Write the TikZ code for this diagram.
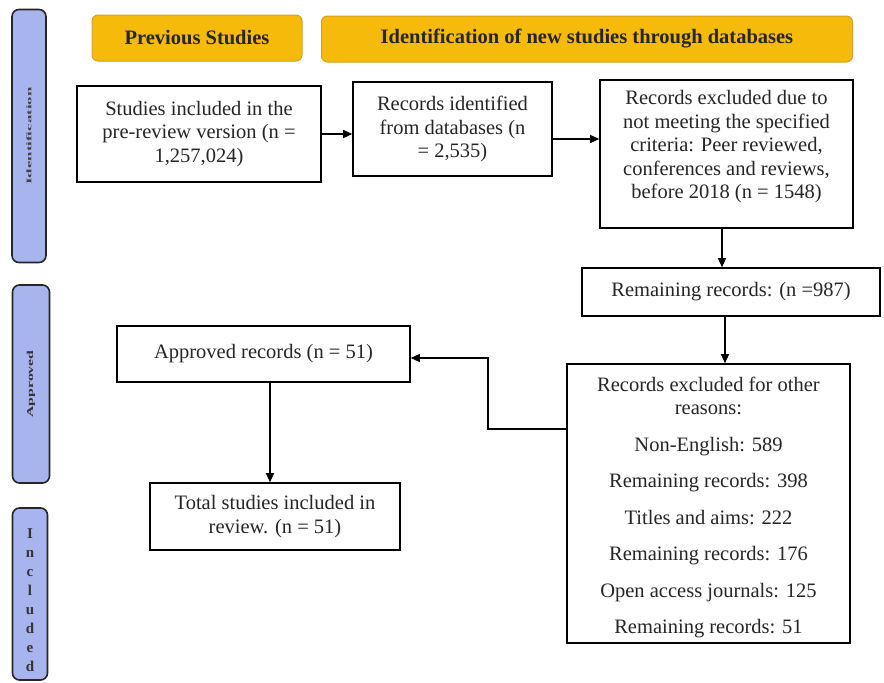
\documentclass[tikz,border=0pt]{standalone}
\usepackage{fontspec}
\setmainfont{Liberation Serif}
\usetikzlibrary{arrows.meta}
\definecolor{barblue}{RGB}{168,180,238}
\definecolor{hdrfill}{RGB}{246,186,10}
\definecolor{hdrline}{RGB}{214,160,40}
\tikzset{
  box/.style={draw=black, line width=1.6pt, fill=white, align=center, inner sep=2pt,
    font=\fontsize{20.5}{23.5}\selectfont, text=black!85},
  txt/.style={align=center, inner sep=0pt, font=\fontsize{20.5}{23.5}\selectfont, text=black!85},
  hdr/.style={draw=hdrline, line width=1pt, fill=hdrfill, rounded corners=6pt,
    font=\fontsize{20.5}{22}\selectfont\bfseries, text=black!85},
  bar/.style={draw=black!85, line width=1.6pt, fill=barblue, rounded corners=7pt},
  arr/.style={draw=black, line width=1.2pt, -{Triangle[length=9pt,width=8pt]}},
}
\begin{document}
\begin{tikzpicture}[x=1pt,y=-1pt]
\useasboundingbox (0,0) rectangle (884,683);
% side bars
\node[bar, minimum width=34pt, minimum height=253pt] (bar1) at (29,136) {};
\node[rotate=90, font=\fontsize{7}{8}\selectfont\bfseries, text=black!75] (lab1) at (bar1.center) {\scalebox{2.4}[1]{Identification}};
\node[bar, minimum width=37pt, minimum height=198pt] (bar2) at (31,384) {};
\node[rotate=90, font=\fontsize{9}{10}\selectfont\bfseries, text=black!80] (lab2) at (bar2.center) {\scalebox{1.75}[1]{Approved}};
\node[bar, minimum width=35pt, minimum height=172pt] (bar3) at (30,594) {};
\node[font=\fontsize{15}{19}\selectfont\bfseries, align=center, text=black!80] (lab3) at (30,600) {I\\n\\c\\l\\u\\d\\e\\d};
% headers
\node[hdr, minimum width=210pt, minimum height=46pt] (h1) at (197,38) {Previous Studies};
\node[hdr, minimum width=531pt, minimum height=46pt] (h2) at (587,39) {Identification of new studies through databases};
% boxes
\node[box, minimum width=244pt, minimum height=96pt] (A) at (199,134) {Studies included in the\\pre-review version (n =\\1,257,024)};
\node[box, minimum width=199pt, minimum height=94pt] (B) at (452.5,129) {Records identified\\from databases (n\\= 2,535)};
\node[box, minimum width=253pt, minimum height=148pt] (C) at (726.5,154) {};
\node[txt] (Ct) at (726.5,147) {Records excluded due to\\not meeting the specified\\criteria: Peer reviewed,\\conferences and reviews,\\before 2018 (n = 1548)};
\node[box, minimum width=298pt, minimum height=48pt] (D) at (731,292) {Remaining records: (n =987)};
\node[box, minimum width=283pt, minimum height=279pt] (E) at (708.5,503.5) {};
\node[txt] (Et) at (708.5,507.5) {Records excluded for other\\reasons:\\[13pt]Non-English: 589\\[13pt]Remaining records: 398\\[13pt]Titles and aims: 222\\[13pt]Remaining records: 176\\[13pt]Open access journals: 125\\[13pt]Remaining records: 51};
\node[box, minimum width=293pt, minimum height=56pt] (F) at (263.5,354) {Approved records (n = 51)};
\node[box, minimum width=250pt, minimum height=67pt] (G) at (275,516.5) {Total studies included in\\review. (n = 51)};
% connectors
\draw[arr] (A.east |- 0,134) -- (B.west |- 0,134);
\draw[arr] (B.east |- 0,139) -- (C.west |- 0,139);
\draw[arr] (C.south -| 722,0) -- (D.north -| 722,0);
\draw[arr] (D.south -| 725,0) -- (E.north -| 725,0);
\coordinate (k1) at (488,429);
\coordinate (k2) at (488,358);
\draw[arr] (E.west |- k1) -- (k1) -- (k2) -- (F.east |- k2);
\draw[arr] (F.south -| 270,0) -- (G.north -| 270,0);
\end{tikzpicture}
\end{document}
